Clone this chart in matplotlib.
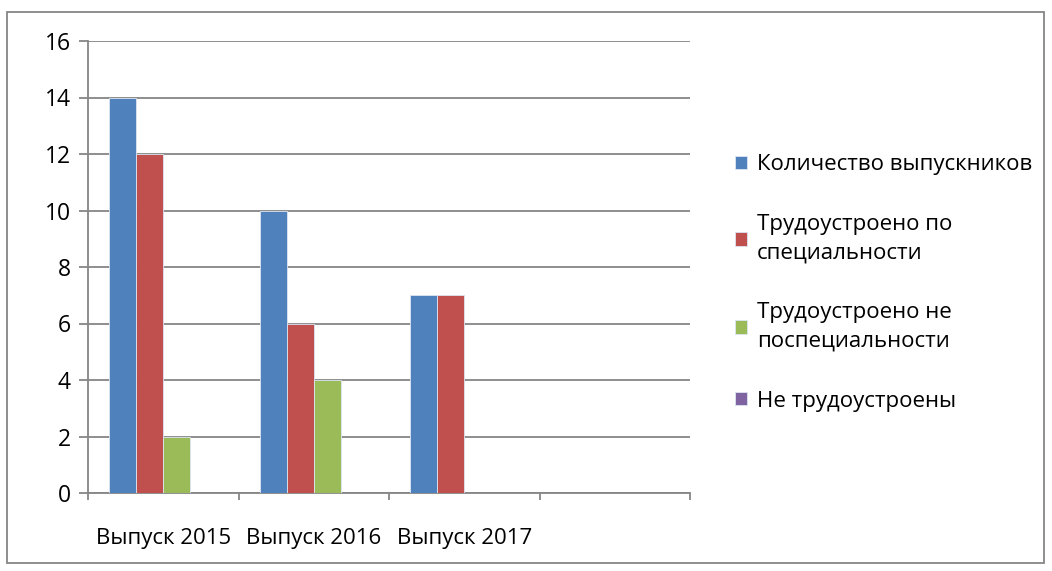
import matplotlib
matplotlib.use('Agg')
import matplotlib.pyplot as plt
from matplotlib.patches import Rectangle
import numpy as np

categories = ['Выпуск 2015', 'Выпуск 2016', 'Выпуск 2017']
series_names = ['Количество выпускников', 'Трудоустроено по\nспециальности',
                'Трудоустроено не\nпоспециальности', 'Не трудоустроены']
graduates = [14, 10, 7]
employed_spec = [12, 6, 7]
employed_other = [2, 4, 0]
unemployed = [0, 0, 0]
colors = ['#4F81BD', '#C0504D', '#9BBB59', '#8064A2']

plt.rcParams['font.family'] = ['Open Sans', 'DejaVu Sans']
grey = '#868686'

fig = plt.figure(figsize=(10.52, 5.71), dpi=100)
ax = fig.add_axes([88 / 1052, 1 - 493 / 571, (690 - 88) / 1052, (493 - 41) / 571])

values = [graduates, employed_spec, employed_other, unemployed]
x = np.arange(len(categories))
width = 0.18
for i, (vals, name, c) in enumerate(zip(values, series_names, colors)):
    ax.bar(x + (i - 1.5) * width, vals, width, color=c, label=name,
           edgecolor='#dce6f2', linewidth=0.6, zorder=3)

ax.set_xlim(-0.5, 3.5)
ax.set_ylim(0, 16)
ax.set_yticks(range(0, 17, 2))
ax.yaxis.grid(True, color=grey, linewidth=1.3, zorder=0)
ax.tick_params(axis='y', length=6.5, width=1.3, color=grey, labelsize=16.5, pad=6)

# category boundaries as ticks, labels as minor ticks at the centres
ax.set_xticks(np.arange(-0.5, 4.0, 1.0))
ax.set_xticklabels([])
ax.set_xticks(x, categories, minor=True)
ax.tick_params(axis='x', which='major', length=5, width=1.3, color=grey, direction='out')
ax.tick_params(axis='x', which='minor', length=0, labelsize=16, pad=25)

for s in ['top', 'right']:
    ax.spines[s].set_visible(False)
for s in ['left', 'bottom']:
    ax.spines[s].set_color(grey)
    ax.spines[s].set_linewidth(1.3)

leg = fig.legend(loc='center left', bbox_to_anchor=(735 / 1052, 1 - 283 / 571),
                 frameon=False, fontsize=16, handlelength=0.55, handleheight=0.55,
                 handletextpad=0.45, labelspacing=1.75, borderpad=0, borderaxespad=0)
for t in leg.get_texts():
    t.set_linespacing(1.45)

fig.patches.append(Rectangle((7 / 1052, 8 / 571), (1044 - 7) / 1052, (563 - 12) / 571,
                             transform=fig.transFigure, fill=False,
                             edgecolor=grey, linewidth=1.3))

fig.savefig('out.png', dpi=100)
